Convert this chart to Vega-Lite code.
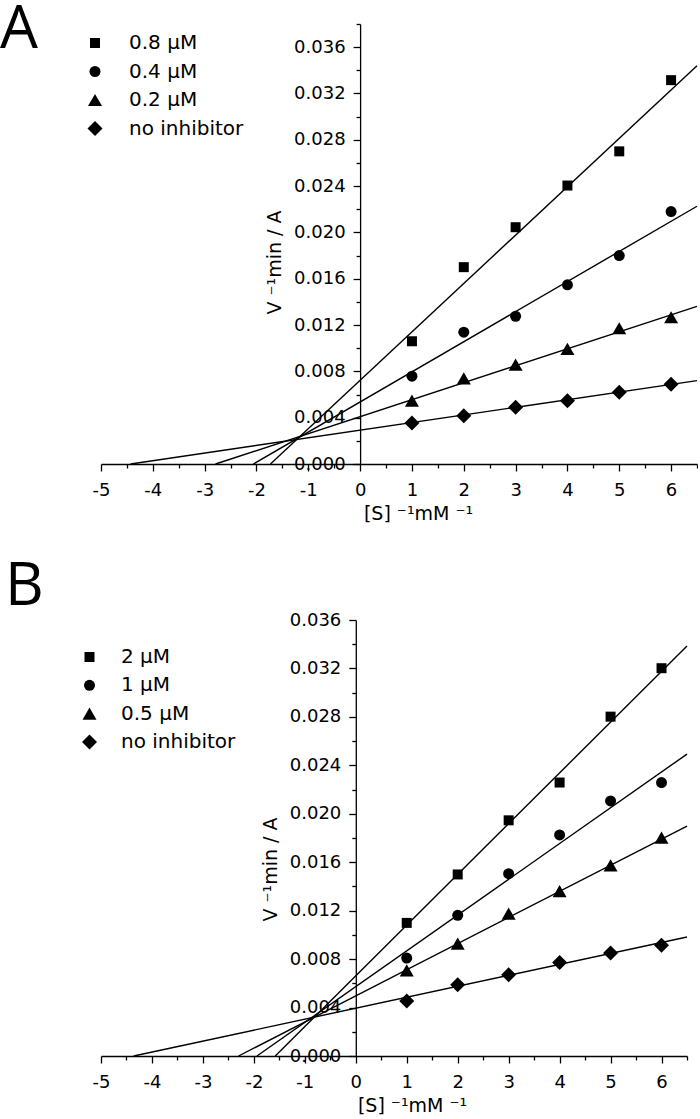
{
  "$schema": "https://vega.github.io/schema/vega-lite/v6.json",
  "padding": {"left": 0, "top": 0, "right": 0, "bottom": 0},
  "background": "white",
  "datasets": {
    "ptsA": [
      {"series": "0.8 µM", "x": 1, "y": 0.0106},
      {"series": "0.8 µM", "x": 2, "y": 0.0170},
      {"series": "0.8 µM", "x": 3, "y": 0.02045},
      {"series": "0.8 µM", "x": 4, "y": 0.02405},
      {"series": "0.8 µM", "x": 5, "y": 0.0270},
      {"series": "0.8 µM", "x": 6, "y": 0.03315},
      {"series": "0.4 µM", "x": 1, "y": 0.00758},
      {"series": "0.4 µM", "x": 2, "y": 0.01138},
      {"series": "0.4 µM", "x": 3, "y": 0.01276},
      {"series": "0.4 µM", "x": 4, "y": 0.01547},
      {"series": "0.4 µM", "x": 5, "y": 0.0180},
      {"series": "0.4 µM", "x": 6, "y": 0.0218},
      {"series": "0.2 µM", "x": 1, "y": 0.00547},
      {"series": "0.2 µM", "x": 2, "y": 0.0074},
      {"series": "0.2 µM", "x": 3, "y": 0.00858},
      {"series": "0.2 µM", "x": 4, "y": 0.00994},
      {"series": "0.2 µM", "x": 5, "y": 0.01172},
      {"series": "0.2 µM", "x": 6, "y": 0.01267},
      {"series": "no inhibitor", "x": 1, "y": 0.00354},
      {"series": "no inhibitor", "x": 2, "y": 0.00417},
      {"series": "no inhibitor", "x": 3, "y": 0.0049},
      {"series": "no inhibitor", "x": 4, "y": 0.00547},
      {"series": "no inhibitor", "x": 5, "y": 0.0062},
      {"series": "no inhibitor", "x": 6, "y": 0.00688}
    ],
    "fitsA": [
      {"series": "0.8 µM", "x": -1.73, "y": 0, "x2": 6.5, "y2": 0.0344},
      {"series": "0.4 µM", "x": -2.06, "y": 0, "x2": 6.5, "y2": 0.02226},
      {"series": "0.2 µM", "x": -2.79, "y": 0, "x2": 6.5, "y2": 0.01362},
      {"series": "no inhibitor", "x": -4.43, "y": 0, "x2": 6.5, "y2": 0.0072}
    ],
    "ptsB": [
      {"series": "2 µM", "x": 1, "y": 0.01099},
      {"series": "2 µM", "x": 2, "y": 0.01499},
      {"series": "2 µM", "x": 3, "y": 0.01946},
      {"series": "2 µM", "x": 4, "y": 0.02258},
      {"series": "2 µM", "x": 5, "y": 0.02802},
      {"series": "2 µM", "x": 6, "y": 0.03202},
      {"series": "1 µM", "x": 1, "y": 0.00809},
      {"series": "1 µM", "x": 2, "y": 0.01162},
      {"series": "1 µM", "x": 3, "y": 0.01505},
      {"series": "1 µM", "x": 4, "y": 0.01825},
      {"series": "1 µM", "x": 5, "y": 0.02106},
      {"series": "1 µM", "x": 6, "y": 0.02258},
      {"series": "0.5 µM", "x": 1, "y": 0.00707},
      {"series": "0.5 µM", "x": 2, "y": 0.00928},
      {"series": "0.5 µM", "x": 3, "y": 0.01176},
      {"series": "0.5 µM", "x": 4, "y": 0.01361},
      {"series": "0.5 µM", "x": 5, "y": 0.01574},
      {"series": "0.5 µM", "x": 6, "y": 0.01803},
      {"series": "no inhibitor", "x": 1, "y": 0.00455},
      {"series": "no inhibitor", "x": 2, "y": 0.00588},
      {"series": "no inhibitor", "x": 3, "y": 0.00671},
      {"series": "no inhibitor", "x": 4, "y": 0.00773},
      {"series": "no inhibitor", "x": 5, "y": 0.0085},
      {"series": "no inhibitor", "x": 6, "y": 0.00914}
    ],
    "fitsB": [
      {"series": "2 µM", "x": -1.58, "y": 0, "x2": 6.5, "y2": 0.03385},
      {"series": "1 µM", "x": -1.94, "y": 0, "x2": 6.5, "y2": 0.02493},
      {"series": "0.5 µM", "x": -2.30, "y": 0, "x2": 6.5, "y2": 0.01899},
      {"series": "no inhibitor", "x": -4.36, "y": 0, "x2": 6.5, "y2": 0.00983}
    ]
  },
  "vconcat": [
    {
      "width": 596,
      "height": 440,
      "title": {"text": "A", "anchor": "start", "frame": "group", "orient": "top", "offset": 0, "baseline": "alphabetic", "dx": -101, "dy": 93, "fontSize": 60, "font": "Open Sans", "fontWeight": "normal", "color": "black"},
      "encoding": {
        "x": {"field": "x", "type": "quantitative",
          "scale": {"domain": [-5, 6.5], "nice": false, "zero": false},
          "axis": {"title": "[S] ⁻¹mM ⁻¹", "titleX": 317, "titleY": 55, "titleBaseline": "alphabetic", "titleAlign": "center", "labelPadding": 10,
            "values": [-5,-4.5,-4,-3.5,-3,-2.5,-2,-1.5,-1,-0.5,0,0.5,1,1.5,2,2.5,3,3.5,4,4.5,5,5.5,6,6.5],
            "labelExpr": "datum.value % 1 == 0 ? (datum.value < 0 ? '-' : '') + format(abs(datum.value), 'd') : ''",
            "tickSize": {"condition": {"test": "datum.value % 1 != 0", "value": 4}, "value": 7}}},
        "y": {"field": "y", "type": "quantitative",
          "scale": {"domain": [0, 0.038], "nice": false, "zero": false},
          "axis": {"title": "V ⁻¹min / A", "offset": -259.1, "titleX": -80, "titleY": 238, "titleBaseline": "alphabetic", "titleAlign": "center",
            "values": [0,0.002,0.004,0.006,0.008,0.010,0.012,0.014,0.016,0.018,0.020,0.022,0.024,0.026,0.028,0.030,0.032,0.034,0.036,0.038],
            "labelExpr": "round(datum.value*1000) % 4 == 0 ? format(datum.value, '.3f') : ''",
            "tickSize": {"condition": {"test": "round(datum.value*1000) % 4 != 0", "value": 4}, "value": 7}}}
      },
      "layer": [
        {
          "data": {"name": "fitsA"},
          "mark": {"type": "rule", "color": "black", "strokeWidth": 1.4},
          "encoding": {"x2": {"field": "x2"}, "y2": {"field": "y2"}}
        },
        {
          "data": {"name": "ptsA"},
          "mark": {"type": "point", "filled": true, "color": "black", "opacity": 1, "strokeWidth": 0},
          "encoding": {
            "shape": {"field": "series", "type": "nominal",
              "scale": {"domain": ["0.8 µM", "0.4 µM", "0.2 µM", "no inhibitor"], "range": ["square", "circle", "triangle-up", "diamond"]},
              "legend": {"title": null, "orient": "none", "legendX": -16, "legendY": 9, "labelOffset": 24, "rowPadding": 8.5}},
            "size": {"field": "series", "type": "nominal",
              "scale": {"type": "ordinal", "domain": ["0.8 µM", "0.4 µM", "0.2 µM", "no inhibitor"], "range": [100, 121, 196, 225]},
              "legend": {"title": null, "orient": "none", "legendX": -16, "legendY": 9, "labelOffset": 24, "rowPadding": 8.5}}
          }
        }
      ]
    },
    {
      "width": 586,
      "height": 436,
      "title": {"text": "B", "anchor": "start", "frame": "group", "orient": "top", "offset": 0, "baseline": "alphabetic", "dx": -96, "dy": 54, "fontSize": 60, "font": "Open Sans", "fontWeight": "normal", "color": "black"},
      "encoding": {
        "x": {"field": "x", "type": "quantitative",
          "scale": {"domain": [-5, 6.5], "nice": false, "zero": false},
          "axis": {"title": "[S] ⁻¹mM ⁻¹", "titleX": 311, "titleY": 55, "titleBaseline": "alphabetic", "titleAlign": "center", "labelPadding": 10,
            "values": [-5,-4.5,-4,-3.5,-3,-2.5,-2,-1.5,-1,-0.5,0,0.5,1,1.5,2,2.5,3,3.5,4,4.5,5,5.5,6,6.5],
            "labelExpr": "datum.value % 1 == 0 ? (datum.value < 0 ? '-' : '') + format(abs(datum.value), 'd') : ''",
            "tickSize": {"condition": {"test": "datum.value % 1 != 0", "value": 4}, "value": 7}}},
        "y": {"field": "y", "type": "quantitative",
          "scale": {"domain": [0, 0.036], "nice": false, "zero": false},
          "axis": {"title": "V ⁻¹min / A", "offset": -254.8, "titleX": -79, "titleY": 249, "titleBaseline": "alphabetic", "titleAlign": "center",
            "values": [0,0.002,0.004,0.006,0.008,0.010,0.012,0.014,0.016,0.018,0.020,0.022,0.024,0.026,0.028,0.030,0.032,0.034,0.036],
            "labelExpr": "round(datum.value*1000) % 4 == 0 ? format(datum.value, '.3f') : ''",
            "tickSize": {"condition": {"test": "round(datum.value*1000) % 4 != 0", "value": 4}, "value": 7}}}
      },
      "layer": [
        {
          "data": {"name": "fitsB"},
          "mark": {"type": "rule", "color": "black", "strokeWidth": 1.4},
          "encoding": {"x2": {"field": "x2"}, "y2": {"field": "y2"}}
        },
        {
          "data": {"name": "ptsB"},
          "mark": {"type": "point", "filled": true, "color": "black", "opacity": 1, "strokeWidth": 0},
          "encoding": {
            "shape": {"field": "series", "type": "nominal",
              "scale": {"domain": ["2 µM", "1 µM", "0.5 µM", "no inhibitor"], "range": ["square", "circle", "triangle-up", "diamond"]},
              "legend": {"title": null, "orient": "none", "legendX": -21.5, "legendY": 27, "labelOffset": 21.5, "rowPadding": 8.3}},
            "size": {"field": "series", "type": "nominal",
              "scale": {"type": "ordinal", "domain": ["2 µM", "1 µM", "0.5 µM", "no inhibitor"], "range": [100, 121, 196, 225]},
              "legend": {"title": null, "orient": "none", "legendX": -21.5, "legendY": 27, "labelOffset": 21.5, "rowPadding": 8.3}}
          }
        }
      ]
    }
  ],
  "spacing": 156,
  "bounds": "flush",
  "resolve": {
    "scale": {"x": "independent", "y": "independent", "shape": "independent", "size": "independent"},
    "axis": {"x": "independent", "y": "independent"},
    "legend": {"shape": "independent", "size": "independent"}
  },
  "config": {
    "view": {"stroke": null},
    "axis": {
      "grid": false,
      "domainColor": "black", "domainWidth": 1.3,
      "tickColor": "black", "tickWidth": 1.3,
      "labelFont": "DejaVu Sans", "labelFontSize": 18, "labelColor": "black",
      "labelOverlap": false, "labelFlush": false, "labelPadding": 8,
      "titleFont": "DejaVu Sans", "titleFontSize": 19, "titleFontWeight": "normal", "titleColor": "black"
    },
    "legend": {
      "padding": 0,
      "labelFont": "DejaVu Sans", "labelFontSize": 20, "labelColor": "black",
      "symbolFillColor": "black", "symbolStrokeColor": "black", "symbolStrokeWidth": 0, "symbolOpacity": 1
    }
  }
}
